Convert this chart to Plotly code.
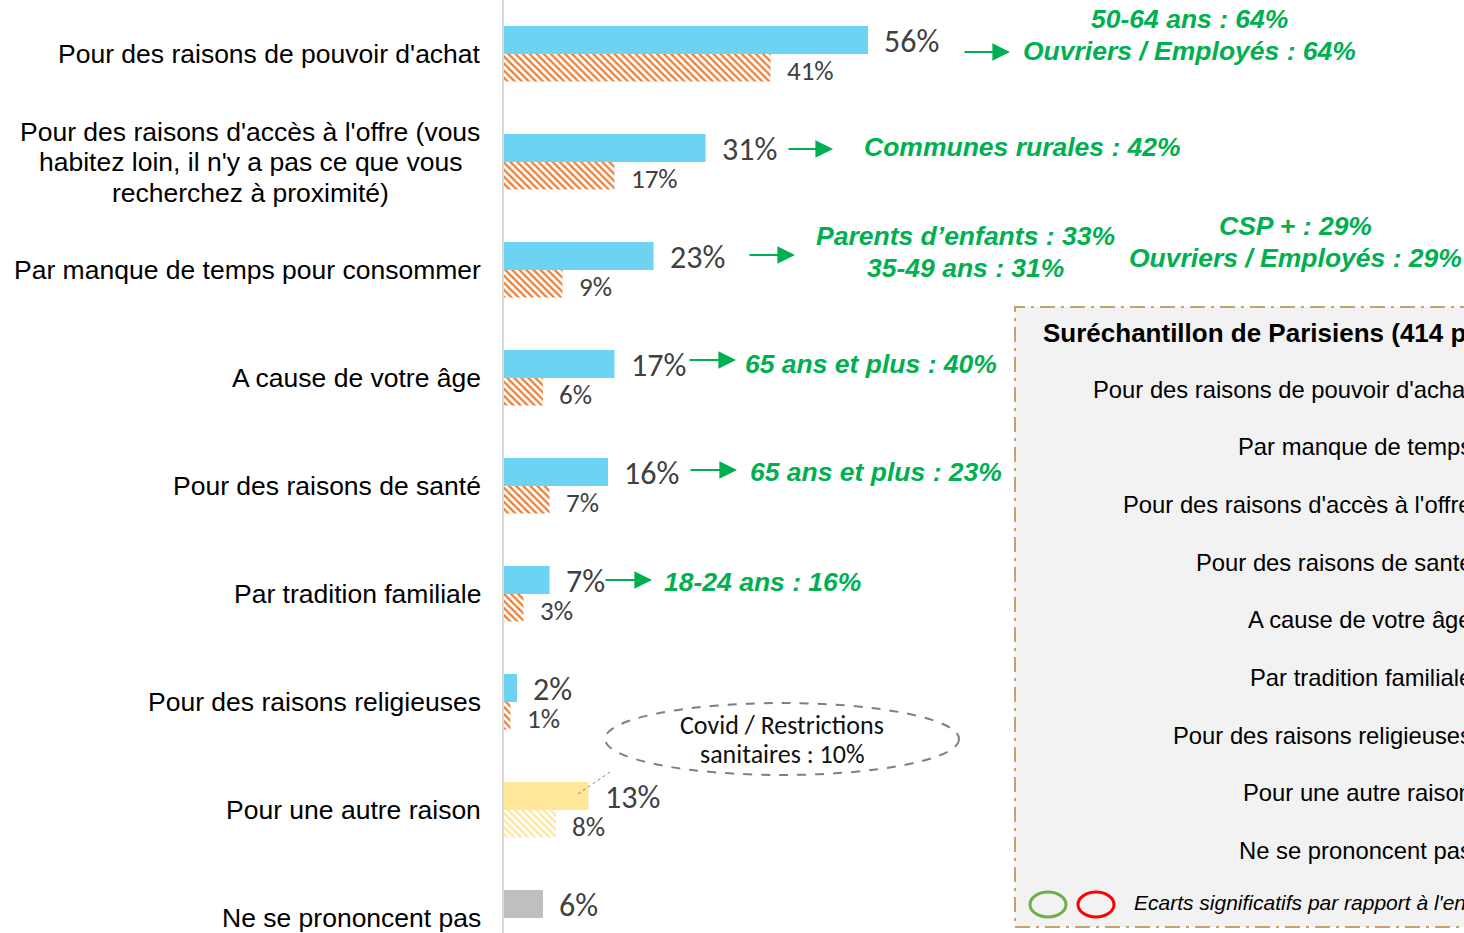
import plotly.graph_objects as go

# ---------------- data ----------------
categories = [
    "Pour des raisons de pouvoir d'achat",
    "Pour des raisons d'accès à l'offre (vous<br>habitez loin, il n'y a pas ce que vous<br>recherchez à proximité)",
    "Par manque de temps pour consommer",
    "A cause de votre âge",
    "Pour des raisons de santé",
    "Par tradition familiale",
    "Pour des raisons religieuses",
    "Pour une autre raison",
    "Ne se prononcent pas",
]
values_main = [56, 31, 23, 17, 16, 7, 2, 13, 6]
values_second = [41, 17, 9, 6, 7, 3, 1, 8, None]
main_colors = ["#6DD3F3"] * 7 + ["#FFE699", "#BFBFBF"]
second_colors = ["#ED7D31"] * 7 + ["#FFE699", "#FFE699"]

sub_title = "Suréchantillon de Parisiens (414 personnes)"
sub_categories = [
    "Pour des raisons de pouvoir d'achat",
    "Par manque de temps",
    "Pour des raisons d'accès à l'offre",
    "Pour des raisons de santé",
    "A cause de votre âge",
    "Par tradition familiale",
    "Pour des raisons religieuses",
    "Pour une autre raison",
    "Ne se prononcent pas",
]
legend_text = "Ecarts significatifs par rapport à l'ensemble"
covid_text = "Covid / Restrictions<br>sanitaires : 10%"

callouts = [
    ["50-64 ans : 64%", "Ouvriers / Employés : 64%"],
    ["Communes rurales : 42%"],
    ["Parents d’enfants : 33%", "35-49 ans : 31%"],
    ["65 ans et plus : 40%"],
    ["65 ans et plus : 23%"],
    ["18-24 ans : 16%"],
]
extra_callout = ["CSP + : 29%", "Ouvriers / Employés : 29%"]

# ---------------- layout geometry ----------------
W, H = 1464, 933
L = 504
PX_PER_PCT = 6.5
ROW0, ROW_STEP = 54, 108

def px(xp):
    return (xp - L) / (W - L)

def py(yp):
    return 1 - yp / H

GREEN = "#00B050"
VAL_FONT = "Carlito, Calibri, Lato, sans-serif"
ARIAL = "Liberation Sans, Arial, sans-serif"

positions = list(range(len(categories)))

fig = go.Figure()
fig.add_trace(go.Bar(
    y=positions, x=values_main, orientation="h",
    width=0.26, offset=-0.26,
    marker=dict(color=main_colors, line=dict(width=0)),
    hoverinfo="skip", showlegend=False,
))
fig.add_trace(go.Bar(
    y=positions, x=values_second, orientation="h",
    width=0.255, offset=0.0,
    marker=dict(color="white", line=dict(width=0),
                pattern=dict(shape="\\", fgcolor=second_colors, bgcolor="white",
                             size=5, solidity=0.45, fillmode="replace")),
    hoverinfo="skip", showlegend=False,
))

annotations = []


def add_lines(lines, cx, cy, gap, font, xanchor="center", xref="paper", yref="paper"):
    n = len(lines)
    for k, t in enumerate(lines):
        annotations.append(dict(
            x=cx, y=cy, xref=xref, yref=yref, xanchor=xanchor, yanchor="middle",
            yshift=-(k - (n - 1) / 2) * gap, text=t, showarrow=False, font=font))


cat_font = dict(family=ARIAL, size=26.5, color="#000000")
for i, c in enumerate(categories):
    lines = c.split("<br>")
    if len(lines) == 1:
        annotations.append(dict(
            x=0, y=i, xref="x", yref="y", xanchor="right", yanchor="middle",
            xshift=-21, text=c, showarrow=False, font=cat_font))
    else:
        add_lines(lines, px(250), py(ROW0 + ROW_STEP * i), 30.5, cat_font)

for i, v in enumerate(values_main):
    annotations.append(dict(
        x=v, y=i - 0.12, xref="x", yref="y", xanchor="left", yanchor="middle",
        xshift=14, text=f"{v}%", showarrow=False,
        font=dict(family=VAL_FONT, size=32, color="#404040")))
for i, v in enumerate(values_second):
    if v is None:
        continue
    annotations.append(dict(
        x=v, y=i + 0.15, xref="x", yref="y", xanchor="left", yanchor="middle",
        xshift=14, text=f"{v}%", showarrow=False,
        font=dict(family=VAL_FONT, size=27, color="#404040")))

gfont = dict(family=ARIAL, size=26.5, color=GREEN, weight="bold", style="italic")
callout_pos = [(1189, 35), (1022, 147), (965, 252), (871, 364), (876, 472), (762, 582)]
for (cx, cy), lines in zip(callout_pos, callouts):
    add_lines(lines, px(cx), py(cy), 32, gfont)
add_lines(extra_callout, px(1295), py(242), 32, gfont)

arrows = [(963, 1010, 52), (787, 833, 149), (748, 795, 255), (688, 736, 360), (689, 737, 470), (604, 652, 580)]
for x0, x1, yy in arrows:
    annotations.append(dict(
        x=px(x1), y=py(yy), xref="paper", yref="paper",
        ax=x0 - x1, ay=0, axref="pixel", ayref="pixel",
        text="", showarrow=True, arrowhead=2, arrowsize=1.6, arrowwidth=2.2,
        arrowcolor=GREEN, standoff=0, startstandoff=0))

add_lines(covid_text.split("<br>"), px(782), py(739), 29,
          dict(family=VAL_FONT, size=26, color="#111111"))

annotations.append(dict(
    x=px(1041), y=py(333), xref="paper", yref="paper", xanchor="left", yanchor="middle",
    text=f"<b>{sub_title}</b>", showarrow=False,
    font=dict(family=ARIAL, size=26, color="#000000")))
for k, c in enumerate(sub_categories):
    annotations.append(dict(
        x=px(1474), y=py(389 + 57.7 * k), xref="paper", yref="paper", xanchor="right", yanchor="middle",
        text=c, showarrow=False,
        font=dict(family=ARIAL, size=23.8, color="#000000")))
annotations.append(dict(
    x=px(1132), y=py(902), xref="paper", yref="paper", xanchor="left", yanchor="middle",
    text=f"<i>{legend_text}</i>", showarrow=False,
    font=dict(family=ARIAL, size=21, color="#000000")))

shapes = [
    dict(type="rect", xref="paper", yref="paper", x0=px(1015), x1=px(1520), y0=py(927), y1=py(307),
         fillcolor="#F2F2F2", line=dict(color="#C4A46C", width=2, dash="longdashdot"), layer="below"),
    dict(type="circle", xref="paper", yref="paper", x0=px(1030), x1=px(1066), y0=py(917), y1=py(892),
         line=dict(color="#70AD47", width=3)),
    dict(type="circle", xref="paper", yref="paper", x0=px(1078), x1=px(1114), y0=py(917), y1=py(892),
         line=dict(color="#FF0000", width=3)),
    dict(type="circle", xref="paper", yref="paper", x0=px(605), x1=px(959), y0=py(775), y1=py(703),
         line=dict(color="#7F7F7F", width=2, dash="dash")),
    dict(type="line", xref="paper", yref="paper", x0=px(578), x1=px(610), y0=py(794), y1=py(772),
         line=dict(color="#7F7F7F", width=1, dash="dot")),
]

fig.update_layout(
    width=W, height=H, autosize=False,
    margin=dict(l=L, r=0, t=0, b=0, pad=0),
    plot_bgcolor="white", paper_bgcolor="white",
    barmode="overlay",
    xaxis=dict(range=[0, (W - L) / PX_PER_PCT], visible=False, fixedrange=True),
    yaxis=dict(range=[(H - ROW0) / ROW_STEP, -ROW0 / ROW_STEP], showticklabels=False,
               showgrid=False, zeroline=False, showline=True, linecolor="#D9D9D9", linewidth=2,
               ticks="", fixedrange=True),
    annotations=annotations, shapes=shapes,
)
fig.write_html(
    "out.html",
    config={"displayModeBar": False},
    post_script="document.body.style.margin='0';document.body.style.overflow='hidden';",
)
